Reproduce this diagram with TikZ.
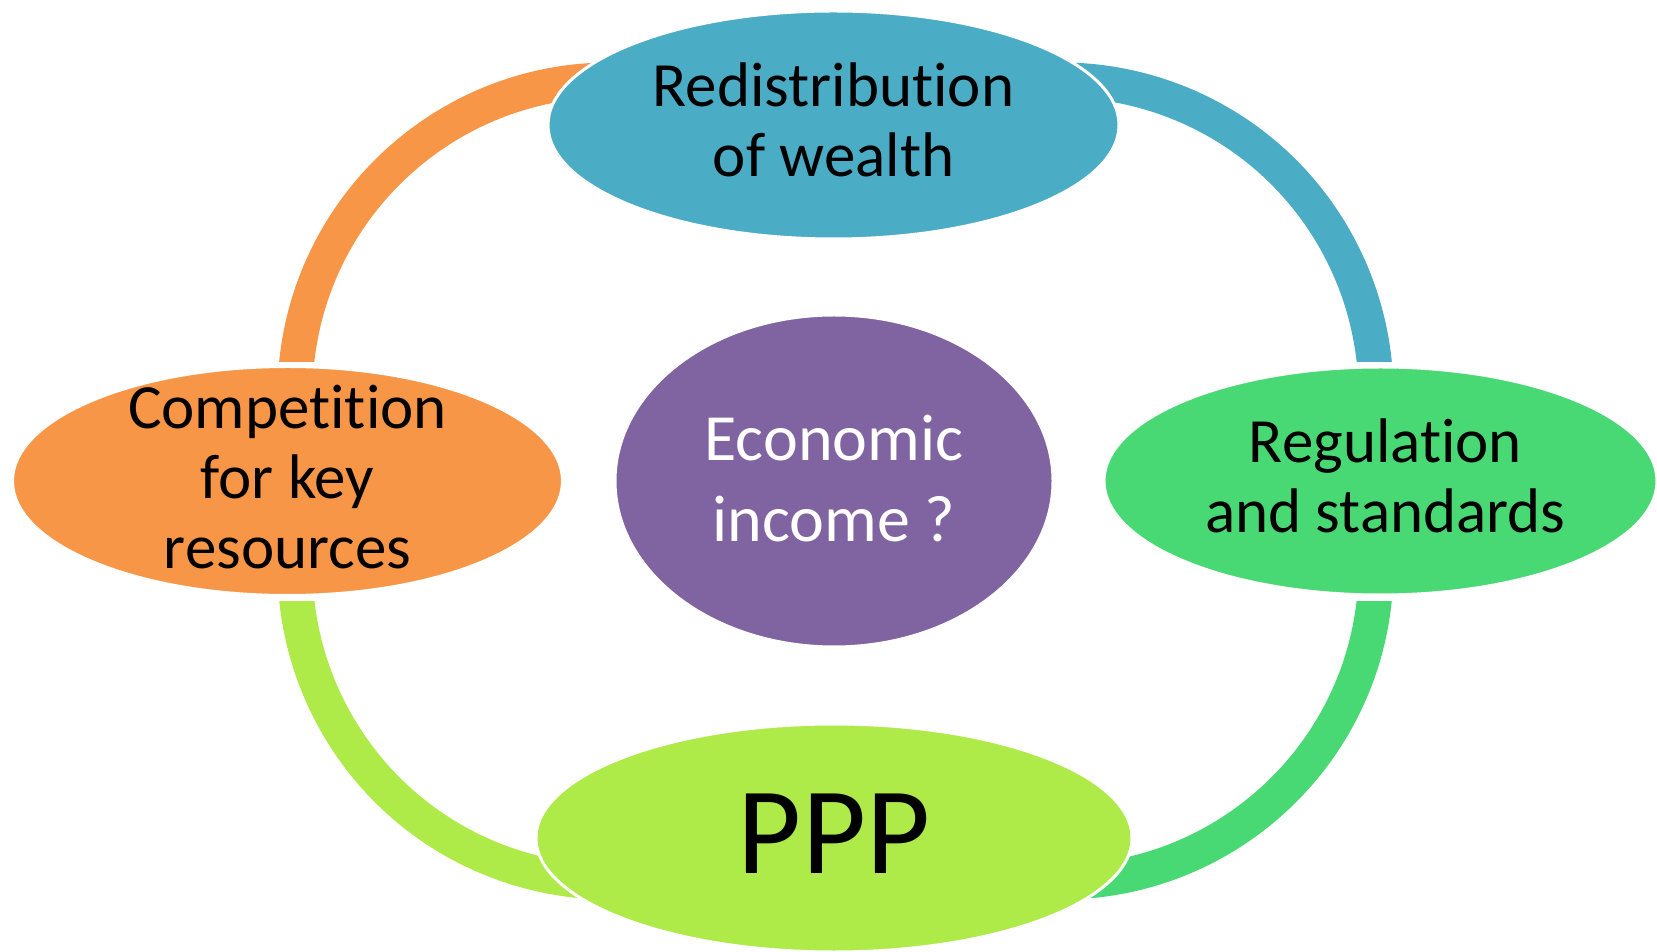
\documentclass[tikz,border=0pt]{standalone}
\usepackage{fontspec}
\setmainfont{Carlito}[Ligatures={NoCommon,NoContextual,NoRare}]
\usetikzlibrary{shapes.geometric}
\definecolor{cblue}{HTML}{4BACC6}
\definecolor{corange}{HTML}{F79646}
\definecolor{cgreen}{HTML}{49D974}
\definecolor{clime}{HTML}{AEEA48}
\definecolor{cpurple}{HTML}{8064A2}
\newcommand{\myti}{t\kern0pt i}
\tikzset{
  blob/.style={ellipse, draw=white, line width=3pt, inner sep=0pt},
  ringarc/.style={line width=35pt, line cap=butt},
  lbl/.style={align=center, text=black, font=\fontsize{63}{70}\selectfont},
}
\begin{document}
\begin{tikzpicture}[x=1pt,y=1pt]
\useasboundingbox (0,0) rectangle (1657,951);
% ring arcs (circular arcs, each with its own centre)
\coordinate (cTL) at (610,556);
\coordinate (cTR) at (1061,556);
\coordinate (cBL) at (610,384);
\coordinate (cBR) at (1061,384);
\begin{scope}
  \clip (0,589) rectangle (1657,951);
  \draw[ringarc, corange] (cTL) ++(178:315) arc[start angle=178, end angle=60, radius=315];
  \draw[ringarc, cblue] (cTR) ++(120:315) arc[start angle=120, end angle=2, radius=315];
\end{scope}
\begin{scope}
  \clip (0,0) rectangle (1657,349);
  \draw[ringarc, clime] (cBL) ++(300:315) arc[start angle=300, end angle=182, radius=315];
  \draw[ringarc, cgreen] (cBR) ++(358:315) arc[start angle=358, end angle=240, radius=315];
\end{scope}
% ellipses
\node[blob, fill=cblue, minimum width=571pt, minimum height=228pt] (top) at (833.5,826) {};
\node[blob, fill=corange, minimum width=550pt, minimum height=229pt] (left) at (287.5,470) {};
\node[blob, fill=cgreen, minimum width=553pt, minimum height=228pt] (right) at (1380.5,470) {};
\node[blob, fill=clime, minimum width=596pt, minimum height=228pt] (bottom) at (834,113) {};
\node[blob, fill=cpurple, minimum width=438pt, minimum height=332pt] (mid) at (834,470) {};
% labels
\node[lbl] (ttop) at ([yshift=5pt]top.center) {Redistribu\myti on\\of wealth};
\node[lbl] (tleft) at ([yshift=4pt]left.center) {Compe\myti\myti on\\for key\\resources};
\node[lbl] (tright) at ([xshift=5pt,yshift=5pt]right.center) {Regula\myti on\\and standards};
\node[lbl, text=white, font=\fontsize{66}{81}\selectfont] (tmid) at ([yshift=2.5pt]mid.center) {Economic\\income ?};
\node[lbl, font=\fontsize{124}{140}\selectfont] (tbottom) at ([yshift=4.5pt]bottom.center) {PPP};
\end{tikzpicture}
\end{document}
